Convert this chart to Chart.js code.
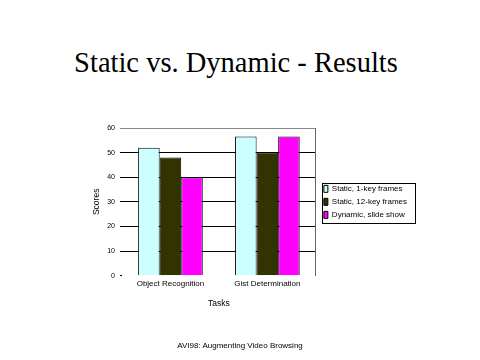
<!DOCTYPE html>
<html>
<head>
<meta charset="utf-8">
<script src="https://cdn.jsdelivr.net/npm/chart.js@4"></script>
<style>
  body { margin: 0; background: #fff; }
  #wrap { position: relative; width: 480px; height: 360px; }
  #title { position: absolute; left: -4px; top: 47px; width: 480px; text-align: center;
           font-family: "Liberation Serif", "Times New Roman", serif; font-size: 28.5px; color: #000; }
  #footer { position: absolute; left: 0; top: 341px; width: 480px; text-align: center;
            font-family: "Liberation Sans", Arial, sans-serif; font-size: 8px; color: #000; }
  canvas { position: absolute; left: 0; top: 0; }
</style>
</head>
<body>
<div id="wrap">
  <div id="title">Static vs. Dynamic - Results</div>
  <canvas id="chart" width="480" height="360"></canvas>
  <div id="footer">AVI98: Augmenting Video Browsing</div>
</div>
<script>
const categories = ['Object Recognition', 'Gist Determination'];
const seriesNames = ['Static, 1-key frames', 'Static, 12-key frames', 'Dynamic, slide show'];
const staticOneKey = [52, 56.5];
const staticTwelveKey = [48, 50];
const dynamicSlideShow = [40, 56.5];
const seriesColors = ['#CCFFFF', '#333300', '#FF00FF'];

const FONT = 'Liberation Sans, Arial, sans-serif';

// nudge the legend a little right of the plot and frame it with a black box
const legendBorder = {
  id: 'legendBorder',
  afterLayout(chart) {
    if (!chart.legend) return;
    chart.legend.left += 3;
    chart.legend.right += 3;
  },
  afterDraw(chart) {
    const boxes = chart.legend && chart.legend.legendHitBoxes;
    if (!boxes || !boxes.length) return;
    const ctx = chart.ctx;
    const left = Math.min(...boxes.map(b => b.left)) - 2;
    const top = Math.min(...boxes.map(b => b.top)) - 2;
    const right = Math.max(...boxes.map(b => b.left + b.width)) + 8;
    const bottom = Math.max(...boxes.map(b => b.top + b.height)) + 4;
    ctx.save();
    ctx.strokeStyle = '#000';
    ctx.lineWidth = 1;
    ctx.strokeRect(Math.round(left) + 0.5, Math.round(top) + 0.5, Math.round(right - left), Math.round(bottom - top));
    ctx.restore();
  }
};

const values = [staticOneKey, staticTwelveKey, dynamicSlideShow];
const ctx = document.getElementById('chart').getContext('2d');
new Chart(ctx, {
  type: 'bar',
  data: {
    labels: categories,
    datasets: seriesNames.map((name, i) => ({
      label: name,
      data: values[i],
      backgroundColor: seriesColors[i],
      borderColor: '#000',
      borderWidth: 1,
      borderSkipped: 'bottom',
      categoryPercentage: 0.667,
      barPercentage: 1.0,
    })),
  },
  options: {
    responsive: false,
    animation: false,
    layout: { padding: { left: 92, top: 128, right: 66, bottom: 51.5 } },
    plugins: {
      tooltip: { enabled: false },
      legend: {
        position: 'right',
        align: 'center',
        fullSize: false,
        maxWidth: 120,
        labels: {
          boxWidth: 4,
          boxHeight: 7,
          padding: 5,
          color: '#000',
          font: { family: FONT, size: 8 },
        },
      },
    },
    scales: {
      x: {
        grid: { display: false, drawTicks: false },
        border: { display: false },
        ticks: { color: '#000', padding: 3.5, font: { family: FONT, size: 8 } },
        title: { display: true, text: 'Tasks', color: '#000', padding: { top: 6, bottom: 0 },
                 font: { family: FONT, size: 8.5 } },
      },
      y: {
        min: 0,
        max: 60,
        ticks: { stepSize: 10, color: '#000', padding: 5, font: { family: FONT, size: 7 } },
        grid: {
          color: c => (c.tick.value === 0 ? 'rgba(0,0,0,0)' : c.tick.value === 60 ? '#888' : '#000'),
          tickColor: c => (c.tick.value === 60 ? '#888' : '#000'),
          tickLength: 2,
          lineWidth: 1,
        },
        border: { display: false },
        title: { display: true, text: 'Scores', color: '#000', padding: { top: 0, bottom: 0 },
                 font: { family: FONT, size: 8.5 } },
      },
      yRight: {
        position: 'right',
        min: 0,
        max: 60,
        ticks: { display: false },
        grid: { display: false, drawTicks: false },
        border: { display: true, color: '#666', width: 1 },
      },
    },
  },
  plugins: [legendBorder],
});
</script>
</body>
</html>
